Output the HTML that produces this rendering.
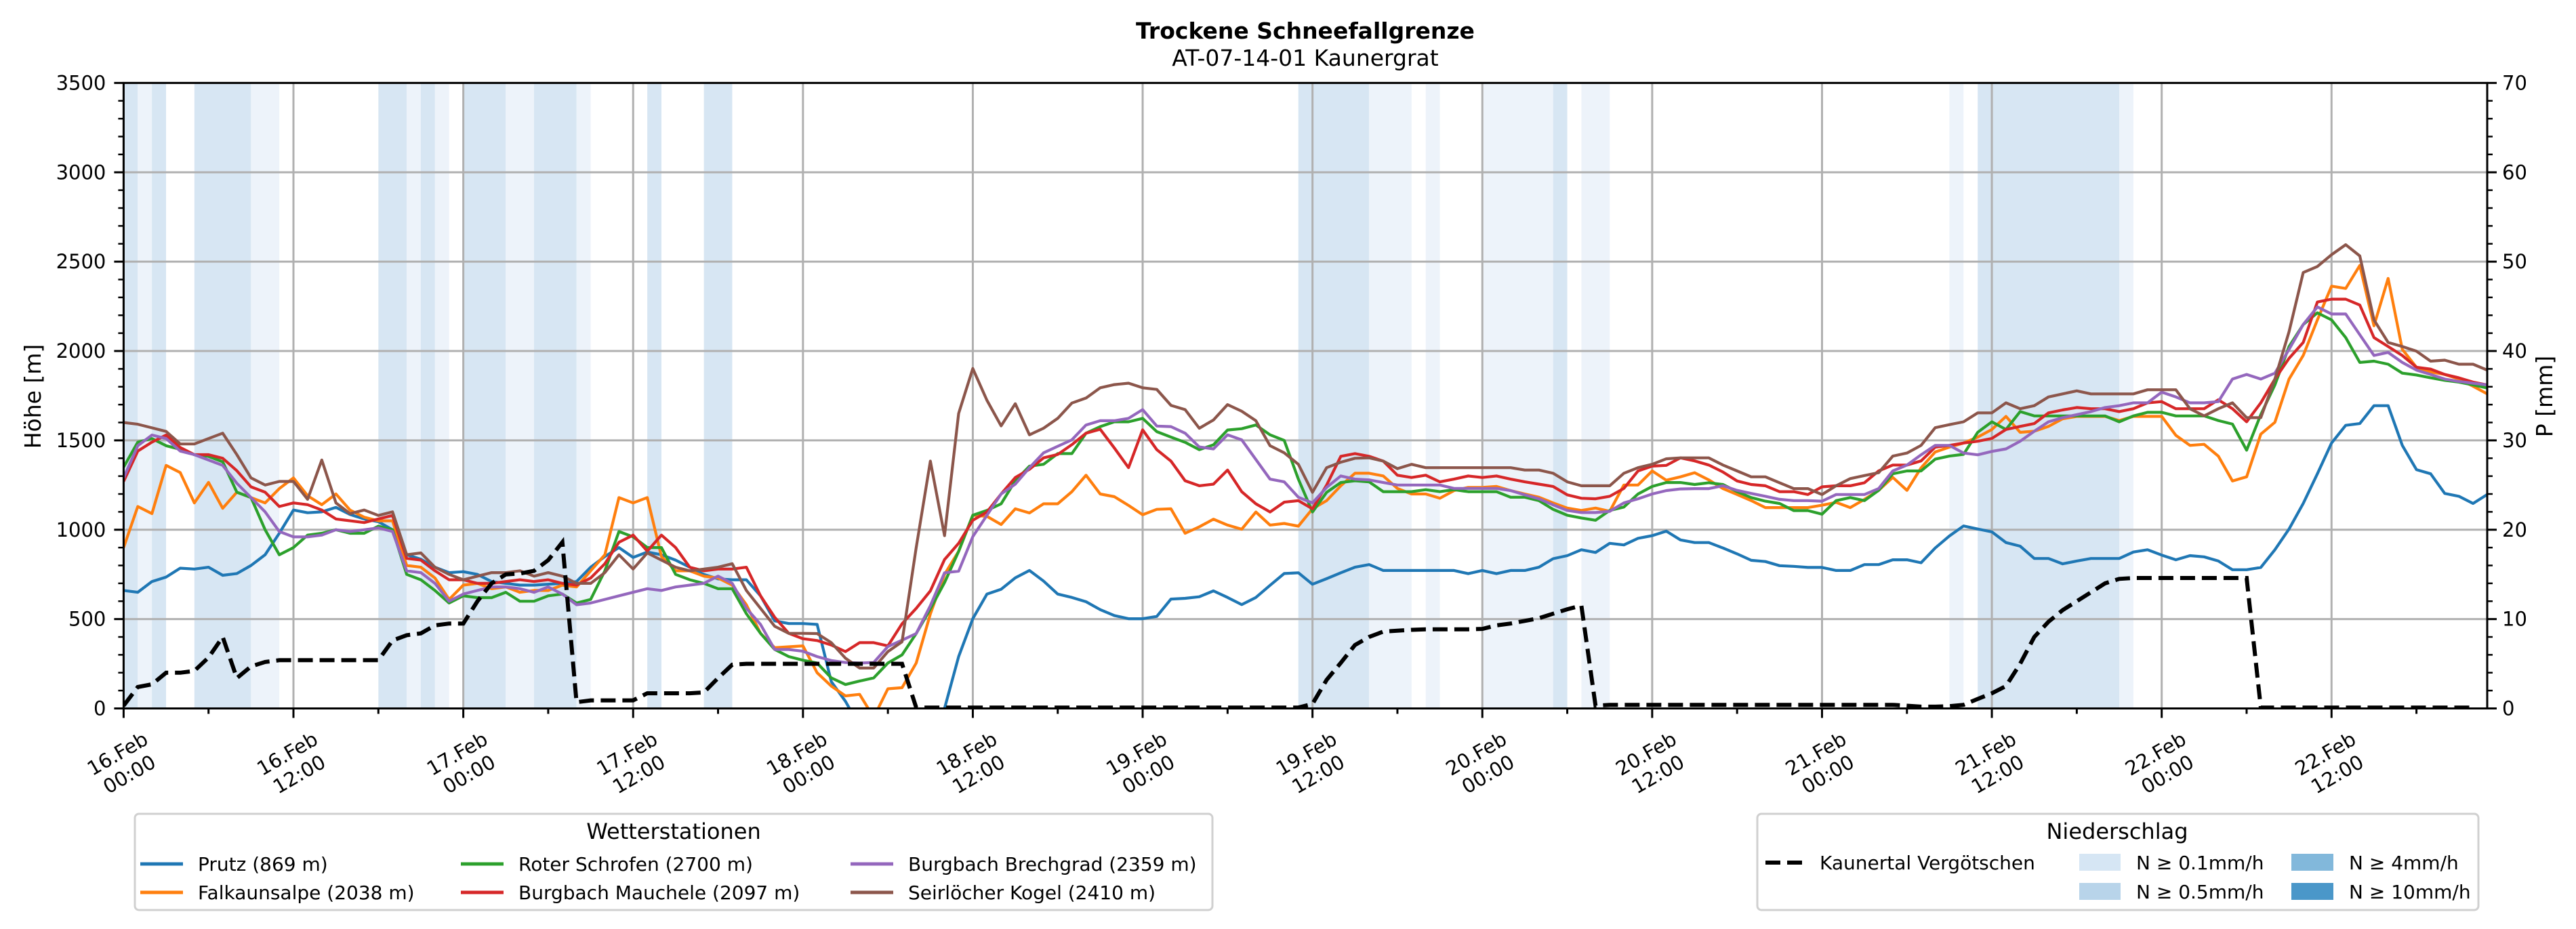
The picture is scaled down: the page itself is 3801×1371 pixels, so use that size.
<!DOCTYPE html>
<html><head><meta charset="utf-8"><style>
html,body{margin:0;padding:0;background:#fff;}
svg{display:block;font-family:"DejaVu Sans","Liberation Sans",sans-serif;}
</style></head><body>
<svg id="chart" width="3801" height="1371" viewBox="0 0 3801 1371" xmlns="http://www.w3.org/2000/svg">
<defs><clipPath id="plotclip"><rect x="182.4" y="122.4" width="3487.6" height="923.1"/></clipPath></defs>
<text x="1926" y="57" text-anchor="middle" font-size="33" font-weight="bold">Trockene Schneefallgrenze</text>
<text x="1926" y="97" text-anchor="middle" font-size="33">AT-07-14-01 Kaunergrat</text>
<g id="bands" clip-path="url(#plotclip)"></g>
<g id="grid"></g>
<g id="series" clip-path="url(#plotclip)"></g>
<g id="axes"></g>
<text transform="translate(60,585) rotate(-90)" text-anchor="middle" font-size="33">Höhe [m]</text>
<text transform="translate(3766,585) rotate(-90)" text-anchor="middle" font-size="33">P [mm]</text>
<g>
<rect x="199" y="1201" width="1590" height="142" rx="6" fill="#fff" stroke="#d0d0d0" stroke-width="3"/>
<text x="994" y="1238" text-anchor="middle" font-size="32">Wetterstationen</text>
<g><line x1="207" y1="1275" x2="270" y2="1275" stroke="#1f77b4" stroke-width="5"/><text x="292" y="1285" font-size="28">Prutz (869 m)</text></g>
<g><line x1="207" y1="1317" x2="270" y2="1317" stroke="#ff7f0e" stroke-width="5"/><text x="292" y="1327" font-size="28">Falkaunsalpe (2038 m)</text></g>
<g><line x1="680" y1="1275" x2="743" y2="1275" stroke="#2ca02c" stroke-width="5"/><text x="765" y="1285" font-size="28">Roter Schrofen (2700 m)</text></g>
<g><line x1="680" y1="1317" x2="743" y2="1317" stroke="#d62728" stroke-width="5"/><text x="765" y="1327" font-size="28">Burgbach Mauchele (2097 m)</text></g>
<g><line x1="1255" y1="1275" x2="1318" y2="1275" stroke="#9467bd" stroke-width="5"/><text x="1340" y="1285" font-size="28">Burgbach Brechgrad (2359 m)</text></g>
<g><line x1="1255" y1="1317" x2="1318" y2="1317" stroke="#8c564b" stroke-width="5"/><text x="1340" y="1327" font-size="28">Seirlöcher Kogel (2410 m)</text></g>
</g>
<g>
<rect x="2593" y="1201" width="1064" height="142" rx="6" fill="#fff" stroke="#d0d0d0" stroke-width="3"/>
<text x="3124" y="1238" text-anchor="middle" font-size="32">Niederschlag</text>
<g><line x1="2605" y1="1273" x2="2661" y2="1273" stroke="#000" stroke-width="6" stroke-dasharray="22,10"/><text x="2685" y="1283" font-size="28">Kaunertal Vergötschen</text></g>
<g><rect x="3068" y="1260" width="61" height="25" fill="#d6e6f4"/><text x="3152" y="1283" font-size="28">N ≥ 0.1mm/h</text></g>
<g><rect x="3068" y="1303" width="61" height="25" fill="#b8d4ea"/><text x="3152" y="1326" font-size="28">N ≥ 0.5mm/h</text></g>
<g><rect x="3381" y="1260" width="62" height="25" fill="#82b8db"/><text x="3466" y="1283" font-size="28">N ≥ 4mm/h</text></g>
<g><rect x="3381" y="1303" width="62" height="25" fill="#4a97c9"/><text x="3466" y="1326" font-size="28">N ≥ 10mm/h</text></g>
</g>
</svg>
<script>
const prutz=[660,650,710,735,785,780,790,745,755,800,860,980,1110,1095,1100,1125,1085,1060,1045,1000,860,835,790,760,765,750,710,700,690,690,695,700,710,790,850,900,845,875,860,830,790,750,725,720,720,630,490,475,475,470,150,40,-100,-100,-100,-100,-100,-100,0,290,502,640,667,731,772,713,640,621,597,553,520,502,502,515,612,616,625,658,621,581,621,689,755,759,695,726,759,790,805,772,772,772,772,772,772,754,772,754,772,772,790,838,855,888,873,924,915,952,967,992,943,928,928,898,865,829,822,799,795,789,789,772,772,805,805,832,832,815,898,965,1021,1004,988,928,908,839,839,809,825,839,839,839,875,888,858,832,855,848,825,776,776,789,888,1004,1147,1313,1485,1584,1594,1694,1694,1472,1336,1313,1203,1187,1147,1197];
const falkaunsalpe=[900,1130,1090,1360,1320,1150,1265,1120,1210,1180,1150,1230,1290,1190,1140,1200,1110,1070,1050,1050,800,790,730,610,690,700,670,680,650,660,660,690,680,770,860,1180,1150,1180,850,770,770,740,730,690,580,420,340,345,350,200,125,70,79,-50,110,116,254,529,750,879,1081,1075,1029,1117,1094,1145,1145,1213,1305,1200,1185,1136,1084,1114,1117,980,1016,1059,1026,1003,1099,1026,1035,1020,1117,1163,1246,1316,1316,1301,1231,1200,1200,1176,1219,1237,1237,1242,1219,1200,1182,1150,1121,1108,1121,1103,1250,1250,1329,1277,1296,1319,1279,1230,1197,1163,1124,1124,1124,1124,1137,1153,1124,1170,1220,1293,1220,1346,1435,1462,1485,1518,1561,1634,1545,1551,1578,1621,1634,1634,1634,1611,1634,1634,1634,1528,1472,1478,1412,1273,1296,1535,1601,1843,1975,2174,2363,2350,2479,2141,2406,2009,1909,1883,1869,1843,1803,1760];
const roterSchrofen=[1350,1490,1510,1470,1450,1420,1410,1380,1210,1180,1000,860,900,970,980,1000,980,980,1020,1000,750,720,660,590,630,620,620,650,600,600,630,640,590,610,770,990,960,900,900,750,720,700,670,670,530,420,330,290,270,254,171,134,153,171,254,300,419,557,704,879,1081,1108,1145,1274,1356,1366,1426,1426,1540,1577,1604,1604,1623,1549,1518,1489,1448,1475,1558,1565,1586,1531,1500,1283,1099,1209,1264,1274,1268,1213,1213,1213,1224,1213,1224,1213,1213,1213,1182,1182,1163,1114,1081,1066,1053,1108,1127,1200,1242,1264,1264,1253,1263,1253,1213,1180,1160,1147,1107,1107,1087,1163,1180,1163,1220,1313,1329,1329,1395,1412,1422,1545,1604,1561,1661,1637,1637,1637,1637,1637,1637,1604,1637,1657,1657,1637,1637,1637,1611,1591,1445,1644,1810,2025,2148,2214,2174,2075,1936,1943,1926,1876,1866,1850,1836,1826,1810,1793];
const mauchele=[1270,1440,1490,1530,1460,1420,1420,1400,1330,1240,1210,1130,1150,1140,1110,1060,1050,1040,1060,1080,840,830,770,720,720,700,700,710,720,710,720,700,690,730,810,930,970,880,970,900,790,770,780,780,790,630,510,420,390,380,355,318,368,368,350,474,560,658,833,924,1053,1099,1200,1292,1338,1402,1421,1476,1540,1562,1457,1347,1559,1448,1384,1274,1246,1255,1334,1213,1145,1099,1154,1163,1117,1250,1411,1426,1411,1384,1305,1292,1305,1268,1283,1301,1292,1301,1283,1268,1255,1242,1195,1176,1173,1187,1231,1329,1356,1360,1402,1385,1362,1323,1273,1253,1246,1213,1213,1197,1240,1246,1246,1263,1329,1362,1362,1385,1462,1472,1485,1495,1511,1561,1578,1594,1654,1670,1684,1677,1677,1661,1677,1710,1717,1677,1677,1677,1727,1677,1604,1710,1843,1959,2048,2274,2290,2290,2257,2075,2025,1975,1909,1899,1869,1850,1826,1810];
const brechgrad=[1290,1470,1530,1510,1440,1420,1390,1360,1260,1180,1100,990,960,960,970,1000,990,1000,1010,990,770,760,700,600,640,660,680,680,670,650,680,640,580,590,610,630,650,670,660,680,690,700,740,700,560,470,330,330,320,290,268,257,254,257,346,382,419,575,759,768,961,1081,1200,1255,1347,1430,1467,1503,1586,1610,1610,1623,1672,1580,1577,1540,1463,1452,1531,1503,1393,1283,1268,1182,1150,1237,1301,1283,1279,1264,1250,1250,1250,1250,1231,1231,1231,1231,1219,1195,1173,1139,1108,1096,1096,1103,1150,1173,1200,1219,1228,1230,1230,1246,1220,1203,1187,1170,1163,1163,1160,1197,1197,1197,1230,1329,1362,1419,1472,1472,1429,1419,1438,1452,1495,1551,1604,1627,1644,1661,1684,1694,1710,1710,1770,1743,1710,1710,1717,1843,1869,1843,1876,2009,2148,2247,2207,2207,2091,1975,1992,1936,1893,1869,1843,1830,1820,1810];
const seirloecher=[1600,1590,1570,1550,1480,1480,1510,1540,1420,1290,1250,1270,1270,1170,1390,1150,1090,1110,1080,1100,860,870,790,750,720,740,760,760,770,740,760,740,700,700,760,860,780,870,830,790,770,780,790,810,660,560,460,420,420,419,368,281,226,226,318,373,900,1384,967,1650,1902,1724,1581,1705,1531,1568,1623,1709,1737,1794,1812,1820,1794,1785,1696,1672,1568,1614,1700,1663,1610,1470,1430,1366,1209,1347,1378,1400,1402,1384,1342,1366,1347,1347,1347,1347,1347,1347,1347,1334,1334,1316,1268,1246,1246,1246,1316,1347,1366,1397,1402,1402,1402,1362,1329,1296,1296,1263,1230,1230,1197,1246,1286,1303,1319,1412,1429,1472,1571,1588,1604,1654,1654,1710,1677,1694,1743,1760,1777,1760,1760,1760,1760,1783,1783,1783,1677,1637,1677,1710,1627,1627,1843,2108,2439,2473,2539,2595,2532,2174,2048,2025,1999,1943,1949,1926,1926,1893];
const precipMm=[0.3,2.4,2.7,4.0,4.0,4.2,5.7,8.0,3.4,4.7,5.2,5.4,5.4,5.4,5.4,5.4,5.4,5.4,5.4,7.6,8.2,8.4,9.3,9.5,9.5,12.0,14.0,15.0,15.1,15.4,16.6,18.6,0.7,0.9,0.9,0.9,0.9,1.7,1.7,1.7,1.7,1.8,3.4,4.9,5.0,5.0,5.0,5.0,5.0,5.0,5.0,5.0,5.0,5.0,5.0,5.0,0.1,0.1,0.1,0.1,0.1,0.1,0.1,0.1,0.1,0.1,0.1,0.1,0.1,0.1,0.1,0.1,0.1,0.1,0.1,0.1,0.1,0.1,0.1,0.1,0.1,0.1,0.1,0.1,0.5,3.2,5.1,7.1,8.0,8.6,8.7,8.8,8.85,8.86,8.86,8.86,8.9,9.3,9.5,9.8,10.1,10.6,11.1,11.5,0.3,0.4,0.4,0.4,0.4,0.4,0.4,0.4,0.4,0.4,0.4,0.4,0.4,0.4,0.4,0.4,0.4,0.4,0.4,0.4,0.4,0.4,0.3,0.2,0.2,0.25,0.4,1.06,1.7,2.5,5.0,8.0,9.7,11.0,12.0,13.0,14.0,14.5,14.6,14.6,14.6,14.6,14.6,14.6,14.6,14.6,14.6,0.1,0.1,0.1,0.1,0.1,0.1,0.1,0.1,0.1,0.1,0.1,0.1,0.1,0.1,0.1,0.1];
const bandStart=[0,1,2,5,9,18,20,21,22,24,27,29,32,37,41,83,88,92,96,101,103,129,131,141];
const bandEnd=[1,2,3,9,11,20,21,22,23,27,29,32,33,38,43,88,91,93,101,102,105,130,141,142];
const bandLevel=[2,1,2,2,1,2,1,2,1,2,1,2,1,2,2,2,1,1,1,2,1,1,2,1];
const xTickLabels=["16.Feb\n00:00","16.Feb\n12:00","17.Feb\n00:00","17.Feb\n12:00","18.Feb\n00:00","18.Feb\n12:00","19.Feb\n00:00","19.Feb\n12:00","20.Feb\n00:00","20.Feb\n12:00","21.Feb\n00:00","21.Feb\n12:00","22.Feb\n00:00","22.Feb\n12:00"];
const yTicks=[0,500,1000,1500,2000,2500,3000,3500];
const y2Ticks=[0,10,20,30,40,50,60,70];

const NS="http://www.w3.org/2000/svg";
const X0=182.4,X1=3670,Y0=1045.5,Y1=122.4,HMAX=167,VMAX=3500,PMAX=70;
function xs(h){return X0+(X1-X0)*h/HMAX;}
function ys(v){return Y0-(Y0-Y1)*v/VMAX;}
function yp(p){return Y0-(Y0-Y1)*p/PMAX;}
function mk(tag,attrs,parent){const e=document.createElementNS(NS,tag);for(const k in attrs)e.setAttribute(k,attrs[k]);parent.appendChild(e);return e;}

const bands=document.getElementById('bands');
bandStart.forEach((s,i)=>{
  const r=mk('rect',{x:xs(s),y:Y1,width:xs(bandEnd[i])-xs(s),height:Y0-Y1,fill:bandLevel[i]==2?'#d7e6f3':'#edf3fa'},bands);
  
  
});

const grid=document.getElementById('grid');
xTickLabels.forEach((l,i)=>{
  const g=mk('line',{x1:xs(i*12),y1:Y1,x2:xs(i*12),y2:Y0,stroke:'#b0b0b0','stroke-width':3},grid);
  
  
});
yTicks.forEach(v=>{
  const g=mk('line',{x1:X0,y1:ys(v),x2:X1,y2:ys(v),stroke:'#b0b0b0','stroke-width':3},grid);
  
  
});

const series=document.getElementById('series');
const defs=[[prutz,'#1f77b4','line-prutz'],[falkaunsalpe,'#ff7f0e','line-falkaunsalpe'],[roterSchrofen,'#2ca02c','line-roter-schrofen'],[mauchele,'#d62728','line-burgbach-mauchele'],[brechgrad,'#9467bd','line-burgbach-brechgrad'],[seirloecher,'#8c564b','line-seirloecher-kogel']];
defs.forEach(d=>{
  const pts=d[0].map((v,h)=>xs(h).toFixed(1)+','+ys(v).toFixed(1)).join(' ');
  const p=mk('polyline',{points:pts,fill:'none',stroke:d[1],'stroke-width':4.2,'stroke-linejoin':'round'},series);
  
  
});
{
  const pts=precipMm.map((v,h)=>xs(h).toFixed(1)+','+yp(v).toFixed(1)).join(' ');
  const p=mk('polyline',{points:pts,fill:'none',stroke:'#000','stroke-width':6,'stroke-dasharray':'22,10'},series);
  
  
}

const axes=document.getElementById('axes');
const frame=mk('rect',{x:X0,y:Y1,width:X1-X0,height:Y0-Y1,fill:'none',stroke:'#000','stroke-width':3},axes);


for(let v=0;v<=VMAX;v+=100){
  const major=v%500===0;
  const t=mk('line',{x1:X0,y1:ys(v),x2:X0-(major?14:8),y2:ys(v),stroke:'#000','stroke-width':major?3:2.5},axes);
  
  
}
yTicks.forEach(v=>{
  const t=mk('text',{x:X0-26,y:ys(v)+10,'text-anchor':'end','font-size':29},axes);
  t.textContent=v;
  
  
});
for(let p=0;p<=PMAX;p+=2){
  const major=p%10===0;
  const t=mk('line',{x1:X1,y1:yp(p),x2:X1+(major?14:8),y2:yp(p),stroke:'#000','stroke-width':major?3:2.5},axes);
  
  
}
y2Ticks.forEach(p=>{
  const t=mk('text',{x:X1+22,y:yp(p)+10,'text-anchor':'start','font-size':29},axes);
  t.textContent=p;
  
  
});
for(let h=0;h<=HMAX;h+=6){
  const major=h%12===0;
  const t=mk('line',{x1:xs(h),y1:Y0,x2:xs(h),y2:Y0+(major?14:8),stroke:'#000','stroke-width':3},axes);
  
  
}
xTickLabels.forEach((l,i)=>{
  const g=mk('g',{transform:'translate('+xs(i*12).toFixed(1)+',1128) rotate(-30)'},axes);
  
  
  const parts=l.split('\n');
  parts.forEach((s,j)=>{
    const t=mk('text',{x:0,y:(j===0?-8:27),'text-anchor':'middle','font-size':29},g);
    t.textContent=s;
  });
});
</script>
</body></html>
